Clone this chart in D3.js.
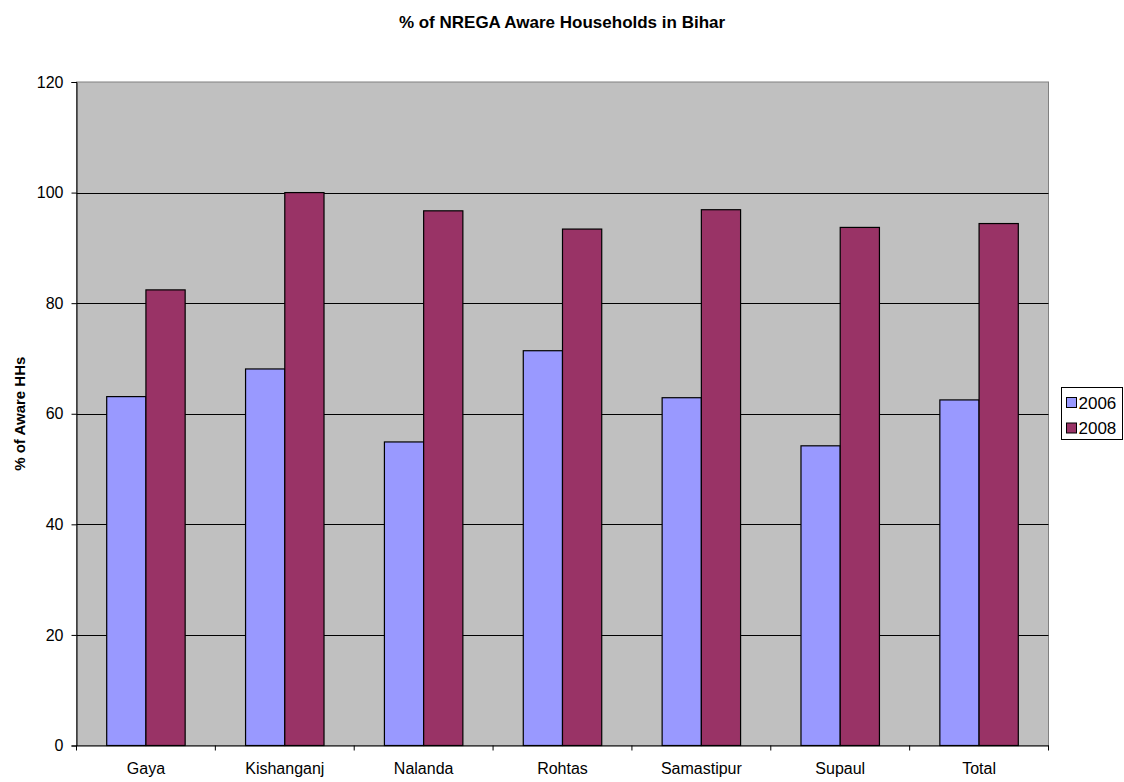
<!DOCTYPE html>
<html lang="en">
<head>
    <meta charset="UTF-8">
    <title>% of NREGA Aware Households in Bihar</title>
    <style>
        body { margin: 0; background: #fff; }
        svg text { font-family: "Liberation Sans", Arial, sans-serif; fill: #000; }
    </style>
</head>
<body>
    <svg id="chart" width="1124" height="782"></svg>
    <script src="https://d3js.org/d3.v7.min.js"></script>
    <script>
        const districts = ['Gaya', 'Kishanganj', 'Nalanda', 'Rohtas', 'Samastipur', 'Supaul', 'Total'];
        const years = ['2006', '2008'];
        const aware2006 = [63.1, 68.1, 54.9, 71.4, 62.9, 54.2, 62.5];
        const aware2008 = [82.4, 100, 96.7, 93.4, 96.9, 93.7, 94.4];
        const yTicks = [0, 20, 40, 60, 80, 100, 120];
        const colors = ['#9999FF', '#993366'];

        const series = [aware2006, aware2008];
        const rows = districts.map((d, i) => ({ name: d, vals: years.map((y, j) => ({ year: y, v: series[j][i], j })) }));

        const svg = d3.select('#chart');
        const plotL = 76.5, plotR = 1048.5, plotT = 82, plotB = 745.5;
        const font = '"Liberation Sans", Arial, sans-serif';

        const x = d3.scaleBand().domain(districts).range([plotL, plotR]).padding(0);
        // bars take ~57% of each category, centred
        const x1 = d3.scaleBand().domain(years).range([0, x.bandwidth()]).paddingOuter(0.77).paddingInner(0);
        const y = d3.scaleLinear().domain([0, 120]).range([plotB, plotT]);

        // plot area
        svg.append('rect')
            .attr('x', plotL).attr('y', plotT)
            .attr('width', plotR - plotL).attr('height', plotB - plotT)
            .attr('fill', '#C0C0C0').attr('stroke', '#808080').attr('stroke-width', 1);

        // grid lines
        svg.append('g').selectAll('line')
            .data(yTicks.filter(t => t > 0 && t < 120))
            .join('line')
            .attr('x1', plotL).attr('x2', plotR)
            .attr('y1', d => Math.round(y(d)) + 0.5).attr('y2', d => Math.round(y(d)) + 0.5)
            .attr('stroke', '#000').attr('stroke-width', 1);

        // bars
        svg.append('g').selectAll('g')
            .data(rows)
            .join('g')
            .attr('transform', d => `translate(${x(d.name)},0)`)
            .selectAll('rect')
            .data(d => d.vals)
            .join('rect')
            .attr('x', d => x1(d.year))
            .attr('y', d => y(d.v))
            .attr('width', x1.bandwidth())
            .attr('height', d => y(0) - y(d.v))
            .attr('fill', d => colors[d.j])
            .attr('stroke', '#000').attr('stroke-width', 1.2);

        // y axis
        const yAxis = svg.append('g')
            .attr('transform', `translate(${plotL},0)`)
            .call(d3.axisLeft(y).tickValues(yTicks).tickSize(5).tickPadding(8));
        yAxis.select('.domain').attr('stroke', '#000');
        yAxis.selectAll('.tick line').attr('stroke', '#000');
        yAxis.selectAll('text').attr('font-size', 16).style('font-family', font);

        // x axis, ticks at category boundaries
        const xAxis = svg.append('g')
            .attr('transform', `translate(0,${plotB})`)
            .call(d3.axisBottom(x).tickSize(0).tickPadding(17));
        xAxis.select('.domain').attr('stroke', '#000');
        xAxis.selectAll('text').attr('font-size', 16).style('font-family', font);
        svg.append('g').selectAll('line')
            .data(districts.map(d => x(d)).concat([plotR]))
            .join('line')
            .attr('x1', d => d).attr('x2', d => d)
            .attr('y1', plotB).attr('y2', plotB + 5)
            .attr('stroke', '#000');

        // title
        svg.append('text')
            .attr('x', 562).attr('y', 28)
            .attr('text-anchor', 'middle')
            .attr('font-size', 17).attr('font-weight', 'bold')
            .text('% of NREGA Aware Households in Bihar');

        // y axis title
        svg.append('text')
            .attr('transform', `translate(25,${(plotT + plotB) / 2}) rotate(-90)`)
            .attr('text-anchor', 'middle')
            .attr('font-size', 15).attr('font-weight', 'bold')
            .text('% of Aware HHs');

        // legend
        const legend = svg.append('g').attr('transform', 'translate(1061.5,387.5)');
        legend.append('rect')
            .attr('width', 61).attr('height', 52)
            .attr('fill', '#fff').attr('stroke', '#000');
        const item = legend.selectAll('g.item')
            .data(years)
            .join('g')
            .attr('class', 'item')
            .attr('transform', (d, i) => `translate(5,${15 + i * 25.5})`);
        item.append('rect')
            .attr('x', 0).attr('y', -5)
            .attr('width', 10).attr('height', 10)
            .attr('fill', (d, i) => colors[i]).attr('stroke', '#000');
        item.append('text')
            .attr('x', 12).attr('y', 6)
            .attr('font-size', 17)
            .text(d => d);
    </script>
</body>
</html>
